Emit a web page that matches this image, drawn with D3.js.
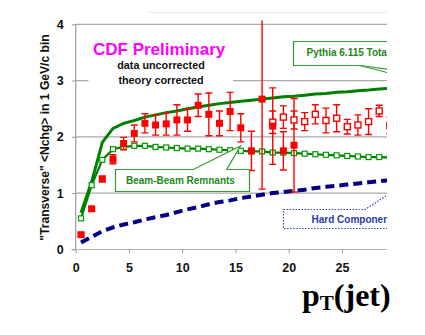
<!DOCTYPE html>
<html><head><meta charset="utf-8">
<script src="https://cdn.jsdelivr.net/npm/d3@7"></script>
<style>body{margin:0;background:#fff}svg{display:block}</style>
</head><body>
<script>
// ---- data ----
const dataPt  = [0.5,1.5,2.5,3.5,4.5,5.5,6.5,7.5,8.5,9.5,10.5,11.5,12.5,13.5,14.5,15.5,16.5,17.5,18.5,19.5,20.5];
const dataVal = [0.26,0.72,1.25,1.6,1.88,2.06,2.24,2.21,2.23,2.3,2.3,2.56,2.4,2.24,2.45,2.16,1.75,2.67,2.19,1.75,1.85];
const dataErr = [0.03,0.03,0.05,0.08,0.11,0.15,0.17,0.18,0.2,0.27,0.2,0.2,0.38,0.22,0.34,0.25,0.35,1.6,0.68,0.34,0.83];
const data2Pt  = [18.5,19.5,20.5,21.5,22.5,23.5,24.5,25.5,26.5,27.5,28.5,29.5];
const data2Val = [2.26,2.35,2.3,2.27,2.4,2.29,2.33,2.18,2.21,2.27,2.46,2.2];
const data2Err = [0.2,0.2,0.16,0.16,0.17,0.22,0.24,0.13,0.18,0.23,0.1,0.15];
const theoryPt = [0.5,1.5,2.5,3.5,4.5,5.5,6.5,7.5,8.5,9.5,10.5,11.5,12.5,13.5,14.5,15.5,16.5,17.5,18.5,19.5,20.5,21.5,22.5,23.5,24.5,25.5,26.5,27.5,28.5,29.5];
const pythiaTotal   = [0.65,1.2,1.9,2.15,2.24,2.29,2.35,2.39,2.43,2.46,2.5,2.53,2.56,2.59,2.61,2.63,2.65,2.67,2.69,2.71,2.72,2.74,2.76,2.77,2.79,2.8,2.82,2.83,2.85,2.86];
const beamRemnants  = [0.55,1.14,1.59,1.78,1.82,1.84,1.84,1.82,1.81,1.8,1.79,1.79,1.78,1.77,1.76,1.75,1.74,1.74,1.72,1.72,1.71,1.7,1.69,1.68,1.67,1.66,1.65,1.64,1.64,1.63];
const hardComponent = [0.12,0.22,0.32,0.39,0.44,0.48,0.53,0.57,0.61,0.66,0.71,0.75,0.8,0.84,0.87,0.91,0.94,0.97,1.0,1.02,1.04,1.06,1.09,1.11,1.13,1.15,1.17,1.19,1.21,1.23];
const xTicks = [0,5,10,15,20,25];
const yTicks = [0,1,2,3,4];

// ---- layout ----
const W = 425, H = 335;
const x0 = 75.7, y0 = 249.3, yTop = 24.3, clipRight = 387;
const svg = d3.select("body").append("svg").attr("width", W).attr("height", H)
  .style("font-family", "'Liberation Sans', Arial, sans-serif");
const x = d3.scaleLinear().domain([0, 30]).range([x0, x0 + 30 * 10.65]);
const y = d3.scaleLinear().domain([0, 4]).range([y0, yTop]);

svg.append("clipPath").attr("id", "plotclip").append("rect")
  .attr("x", 0).attr("y", 20.5).attr("width", clipRight).attr("height", 300);
svg.append("clipPath").attr("id", "rightclip").append("rect")
  .attr("x", 0).attr("y", 0).attr("width", clipRight).attr("height", H);

const grid = svg.append("g").attr("clip-path", "url(#rightclip)");
grid.append("line").attr("x1", 146.7).attr("x2", clipRight).attr("y1", 12.3).attr("y2", 12.3)
  .attr("stroke", "#e8e8e8").attr("stroke-width", 1);
grid.selectAll("line.grid").data(yTicks.filter(d => d > 0)).join("line").attr("class", "grid")
  .attr("x1", x0).attr("x2", clipRight).attr("y1", d => y(d)).attr("y2", d => y(d))
  .attr("stroke", "#aaa").attr("stroke-width", 1.2);

// axes
const xAxis = d3.axisBottom(x).tickValues(xTicks).tickSize(4).tickPadding(10).tickFormat(d3.format("d"));
const gx = svg.append("g").attr("transform", `translate(0,${y0})`).attr("clip-path", "url(#rightclip)").call(xAxis);
gx.select(".domain").attr("d", `M${x0 - 4},0H${clipRight}`).attr("stroke", "#999").attr("stroke-width", 1.2);
gx.selectAll(".tick line").attr("y1", -4).attr("y2", 4).attr("stroke", "#999");
gx.selectAll(".tick text").attr("font-size", 12.5).attr("font-weight", "bold").attr("fill", "#111")
  .attr("font-family", "'Liberation Sans', Arial, sans-serif").attr("dy", "0.71em").attr("y", 14);

const yAxis = d3.axisLeft(y).tickValues(yTicks).tickSize(4).tickPadding(8).tickFormat(d3.format("d"));
const gy = svg.append("g").attr("transform", `translate(${x0},0)`).call(yAxis);
gy.select(".domain").attr("d", `M0,${yTop}V${y0}`).attr("stroke", "#999").attr("stroke-width", 1.2);
gy.selectAll(".tick line").attr("stroke", "#999");
gy.selectAll(".tick text").attr("font-size", 12.5).attr("font-weight", "bold").attr("fill", "#111")
  .attr("font-family", "'Liberation Sans', Arial, sans-serif");

// white text panel
svg.append("rect").attr("x", 88.5).attr("y", 30).attr("width", 144.5).attr("height", 60).attr("fill", "#fff");
svg.append("text").attr("x", 93).attr("y", 54.5).attr("font-size", 17).attr("font-weight", "bold")
  .attr("fill", "#ff00ff").text("CDF Preliminary");
svg.append("text").attr("x", 161).attr("y", 69).attr("text-anchor", "middle").attr("font-size", 10.8)
  .attr("font-weight", "bold").attr("fill", "#111").text("data uncorrected");
svg.append("text").attr("x", 161).attr("y", 84).attr("text-anchor", "middle").attr("font-size", 10.8)
  .attr("font-weight", "bold").attr("fill", "#111").text("theory corrected");

// y axis title
svg.append("text").attr("transform", "translate(48.5,137.5) rotate(-90)").attr("text-anchor", "middle")
  .attr("font-size", 12.1).attr("font-weight", "bold").attr("fill", "#111")
  .text("\"Transverse\" <Nchg> in 1 GeV/c bin");

// x title pT(jet)
const xt = svg.append("text").attr("x", 302).attr("y", 306).attr("font-family", "'Liberation Serif', 'Times New Roman', serif")
  .attr("font-weight", "bold").attr("font-size", 32).attr("fill", "#000");
xt.append("tspan").text("p");
xt.append("tspan").attr("font-size", 21).attr("dy", 4).text("T");
xt.append("tspan").attr("dy", -4).text("(jet)");

// ---- plot marks ----
const plot = svg.append("g").attr("clip-path", "url(#plotclip)");
const line = d3.line().x(d => x(d[0])).y(d => y(d[1]));

plot.append("path").datum(d3.zip(theoryPt, hardComponent)).attr("d", line)
  .attr("fill", "none").attr("stroke", "#000080").attr("stroke-width", 4).attr("stroke-dasharray", "9,5");

plot.append("path").datum(d3.zip(theoryPt, beamRemnants)).attr("d", line)
  .attr("fill", "none").attr("stroke", "#008000").attr("stroke-width", 2.2);
plot.append("path").datum(d3.zip(theoryPt, pythiaTotal)).attr("d", line)
  .attr("fill", "none").attr("stroke", "#008000").attr("stroke-width", 3);

plot.selectAll("rect.bb").data(d3.zip(theoryPt, beamRemnants)).join("rect").attr("class", "bb")
  .attr("x", d => x(d[0]) - 2.5).attr("y", d => y(d[1]) - 2.5).attr("width", 5).attr("height", 5)
  .attr("fill", "#fff").attr("stroke", "#009900").attr("stroke-width", 1.2);

function errBars(pts, vals, errs, cls) {
  const g = plot.append("g").attr("stroke", "#ff0000").attr("stroke-width", 1.4);
  const d = d3.zip(pts, vals, errs);
  g.selectAll("line.v" + cls).data(d).join("line")
    .attr("x1", e => x(e[0])).attr("x2", e => x(e[0])).attr("y1", e => y(e[1] + e[2])).attr("y2", e => y(e[1] - e[2]));
  g.selectAll("line.t" + cls).data(d).join("line")
    .attr("x1", e => x(e[0]) - 3.5).attr("x2", e => x(e[0]) + 3.5).attr("y1", e => y(e[1] + e[2])).attr("y2", e => y(e[1] + e[2]));
  g.selectAll("line.b" + cls).data(d).join("line")
    .attr("x1", e => x(e[0]) - 3.5).attr("x2", e => x(e[0]) + 3.5).attr("y1", e => y(e[1] - e[2])).attr("y2", e => y(e[1] - e[2]));
}
errBars(data2Pt, data2Val, data2Err, "b");
errBars(dataPt, dataVal, dataErr, "a");
plot.selectAll("rect.d2").data(d3.zip(data2Pt, data2Val)).join("rect").attr("class", "d2")
  .attr("x", d => x(d[0]) - 3).attr("y", d => y(d[1]) - 3).attr("width", 6).attr("height", 6)
  .attr("fill", "#fff").attr("stroke", "#ff0000").attr("stroke-width", 1.4);
plot.selectAll("rect.d1").data(d3.zip(dataPt, dataVal)).join("rect").attr("class", "d1")
  .attr("x", d => x(d[0]) - 3.5).attr("y", d => y(d[1]) - 3.5).attr("width", 7).attr("height", 7)
  .attr("fill", "#ff0000");

// ---- callout labels ----
const ann = svg.append("g").attr("clip-path", "url(#rightclip)");
ann.append("path").attr("d", "M293.5,41.5H400V71L360,65.5H293.5Z")
  .attr("fill", "#fff").attr("stroke", "#339933").attr("stroke-width", 1.2);
ann.append("path").attr("d", "M387,72.5L360,65.5").attr("stroke", "#339933").attr("stroke-width", 1.2);
ann.append("text").attr("x", 306.5).attr("y", 56).attr("font-size", 10).attr("font-weight", "bold")
  .attr("fill", "#1a8a1a").text("Pythia 6.115 Total");

ann.append("path").attr("d", "M115.5,169.5H193.3L240.5,146L226.7,169.5H249.5V191.5H115.5Z")
  .attr("fill", "#fff").attr("stroke", "#339933").attr("stroke-width", 1.2);
ann.append("text").attr("x", 126).attr("y", 184).attr("font-size", 10).attr("font-weight", "bold")
  .attr("fill", "#1a8a1a").text("Beam-Beam Remnants");

ann.append("path").attr("d", "M283.5,209.5H365L400,187V228.5H283.5Z")
  .attr("fill", "#fff").attr("stroke", "#3344bb").attr("stroke-width", 1.2).attr("stroke-dasharray", "1.5,1.5");
ann.append("text").attr("x", 311.5).attr("y", 222.5).attr("font-size", 10).attr("font-weight", "bold")
  .attr("fill", "#2a3aa8").text("Hard Component");
</script>
</body></html>
